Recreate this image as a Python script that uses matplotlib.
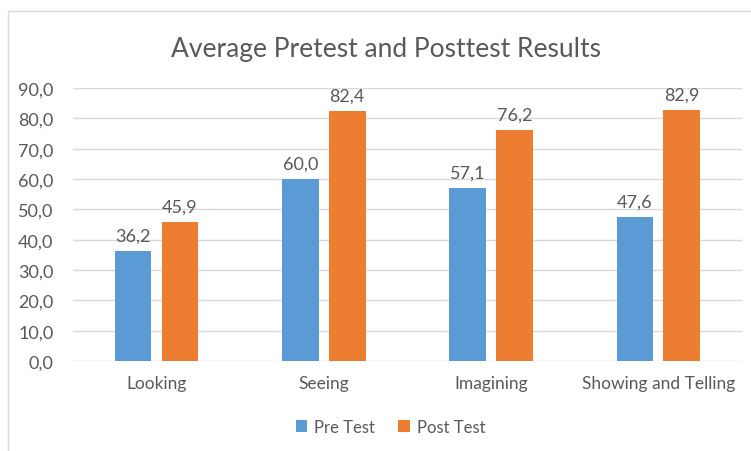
import matplotlib.pyplot as plt
import numpy as np
from matplotlib.patches import Rectangle

# data
categories = ["Looking", "Seeing", "Imagining", "Showing and Telling"]
pre_test = [36.2, 60.0, 57.1, 47.6]
post_test = [45.9, 82.4, 76.2, 82.9]
series_names = ["Pre Test", "Post Test"]
colors = ["#5B9BD5", "#ED7D31"]
text_color = "#595959"

plt.rcParams['font.family'] = ['Lato', 'DejaVu Sans']

fig = plt.figure(figsize=(7.51, 4.52), dpi=100)
ax = fig.add_axes([0.097, 0.199, 0.891, 0.604])

# chart border like excel
fig.patches.append(Rectangle((8 / 751, -0.01), 1.0, 1 - 12 / 452 + 0.01,
                             transform=fig.transFigure, fill=False,
                             edgecolor="#D9D9D9", linewidth=1.0))

x = np.arange(len(categories))
w = 0.22
gap = 0.06
b1 = ax.bar(x - (w + gap) / 2, pre_test, w, color=colors[0], label=series_names[0], zorder=3)
b2 = ax.bar(x + (w + gap) / 2, post_test, w, color=colors[1], label=series_names[1], zorder=3)

for bars, vals in [(b1, pre_test), (b2, post_test)]:
    for rect, v in zip(bars, vals):
        ax.text(rect.get_x() + rect.get_width() / 2, v + 2.4,
                f"{v:.1f}".replace('.', ','), ha='center', va='bottom',
                fontsize=13, color=text_color)

ax.set_xlim(-0.5, len(categories) - 0.5)
ax.set_ylim(0, 90)
ax.set_yticks(np.arange(0, 91, 10))
ax.set_yticklabels([f"{t:.1f}".replace('.', ',') for t in np.arange(0, 91, 10)])
ax.set_xticks(x)
ax.set_xticklabels(categories)
ax.tick_params(axis='y', length=0, labelsize=13, colors=text_color, pad=14)
ax.tick_params(axis='x', length=0, labelsize=12.5, colors=text_color, pad=10)
ax.yaxis.grid(True, color="#D9D9D9", linewidth=1.0, zorder=0)
for s in ax.spines.values():
    s.set_visible(False)

fig.text(0.514, 0.89, "Average Pretest and Posttest Results", ha='center', va='center',
         fontsize=19, color=text_color)

fig.legend(handles=[b1, b2], loc='center', bbox_to_anchor=(0.52, 0.053), ncol=2,
           frameon=False, fontsize=12, labelcolor=text_color,
           handlelength=0.7, handleheight=0.7, handletextpad=0.4, columnspacing=1.4)

plt.savefig("out.png", dpi=100)
